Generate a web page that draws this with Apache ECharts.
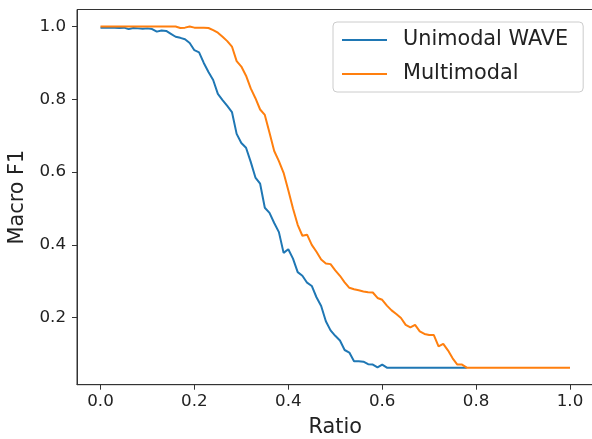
<!DOCTYPE html>
<html>
<head>
<meta charset="utf-8">
<script src="https://cdn.jsdelivr.net/npm/echarts@6/dist/echarts.min.js"></script>
<style>
  html, body { margin: 0; padding: 0; background: #fff; }
  #chart { width: 592px; height: 439px; }
</style>
</head>
<body>
<div id="chart"></div>
<script>
// Ratio steps of 0.01; the unimodal run stops at 0.78
const ratioStep = 0.01;

const unimodalWave = [
  0.997, 0.997, 0.997, 0.997, 0.996, 0.997, 0.993, 0.996, 0.995, 0.994,
  0.995, 0.993, 0.986, 0.989, 0.988, 0.980, 0.972, 0.969, 0.965, 0.955,
  0.935, 0.929, 0.900, 0.875, 0.853, 0.815, 0.798, 0.782, 0.765, 0.705,
  0.680, 0.667, 0.628, 0.585, 0.568, 0.502, 0.488, 0.460, 0.435, 0.378,
  0.388, 0.362, 0.325, 0.315, 0.296, 0.287, 0.256, 0.232, 0.190, 0.165,
  0.150, 0.137, 0.111, 0.104, 0.080, 0.080, 0.079, 0.072, 0.071, 0.063,
  0.071, 0.0625, 0.0625, 0.0625, 0.0625, 0.0625, 0.0625, 0.0625, 0.0625, 0.0625,
  0.0625, 0.0625, 0.0625, 0.0625, 0.0625, 0.0625, 0.0625, 0.0625, 0.0625
];

const multimodal = [
  1.000, 1.000, 1.000, 1.000, 1.000, 1.000, 1.000, 1.000, 1.000, 1.000,
  1.000, 1.000, 1.000, 1.000, 1.000, 1.000, 1.000, 0.996, 0.997, 1.000,
  0.997, 0.997, 0.997, 0.996, 0.990, 0.983, 0.972, 0.960, 0.945, 0.905,
  0.890, 0.865, 0.830, 0.803, 0.772, 0.757, 0.708, 0.658, 0.630, 0.598,
  0.550, 0.500, 0.455, 0.425, 0.428, 0.400, 0.381, 0.360, 0.349, 0.347,
  0.330, 0.315, 0.297, 0.282, 0.278, 0.275, 0.272, 0.270, 0.269, 0.254,
  0.249, 0.233, 0.220, 0.210, 0.199, 0.180, 0.173, 0.180, 0.162, 0.155,
  0.152, 0.152, 0.121, 0.128, 0.110, 0.088, 0.071, 0.071, 0.0625, 0.0625,
  0.0625, 0.0625, 0.0625, 0.0625, 0.0625, 0.0625, 0.0625, 0.0625, 0.0625, 0.0625,
  0.0625, 0.0625, 0.0625, 0.0625, 0.0625, 0.0625, 0.0625, 0.0625, 0.0625, 0.0625,
  0.0625
];

const xTicks = [0.0, 0.2, 0.4, 0.6, 0.8, 1.0];
const yTicks = [0.2, 0.4, 0.6, 0.8, 1.0];

const seriesNames = ['Unimodal WAVE', 'Multimodal'];
const seriesColors = ['#1f77b4', '#ff7f0e'];

function toPairs(values) {
  return values.map((v, i) => [Math.round(i * ratioStep * 100) / 100, v]);
}

const font = 'DejaVu Sans';
const chart = echarts.init(document.getElementById('chart'), null, { renderer: 'canvas' });

const axisCommon = {
  axisLine: { show: true, onZero: false, lineStyle: { color: '#333', width: 1 } },
  axisTick: { show: true, inside: false, length: 5, lineStyle: { color: '#333', width: 1 } },
  splitLine: { show: false },
  axisLabel: { color: '#222', fontFamily: font, fontSize: 16.7 },
  nameTextStyle: { color: '#222', fontFamily: font, fontSize: 20.8 }
};

chart.setOption({
  animation: false,
  backgroundColor: '#fff',
  color: seriesColors,
  grid: {
    left: 77, top: 9.5, right: -1.5, bottom: 54.3,
    show: true, borderColor: '#333', borderWidth: 1,
    containLabel: false, outerBoundsMode: 'none'
  },
  legend: {
    data: seriesNames,
    orient: 'vertical',
    left: 333, top: 22,
    padding: [6, 15, 6, 8],
    backgroundColor: 'rgba(255,255,255,0.8)',
    borderColor: '#ccc', borderWidth: 1, borderRadius: 4,
    itemWidth: 45, itemHeight: 14, itemGap: 10,
    itemStyle: { opacity: 0 },
    lineStyle: { width: 2 },
    textStyle: { fontFamily: font, fontSize: 20.8, color: '#222', lineHeight: 24, padding: [0, 0, 0, 11] }
  },
  xAxis: Object.assign({}, axisCommon, {
    type: 'value', min: -0.05, max: 1.05,
    name: 'Ratio', nameLocation: 'middle', nameGap: 32,
    axisLabel: Object.assign({}, axisCommon.axisLabel, {
      margin: 8, customValues: xTicks, formatter: v => v.toFixed(1)
    }),
    axisTick: Object.assign({}, axisCommon.axisTick, { customValues: xTicks })
  }),
  yAxis: Object.assign({}, axisCommon, {
    type: 'value', min: 0.015625, max: 1.046875,
    name: 'Macro F1', nameLocation: 'middle', nameGap: 45,
    axisLabel: Object.assign({}, axisCommon.axisLabel, {
      margin: 11, customValues: yTicks, formatter: v => v.toFixed(1)
    }),
    axisTick: Object.assign({}, axisCommon.axisTick, { customValues: yTicks })
  }),
  series: [
    {
      name: seriesNames[0], type: 'line', data: toPairs(unimodalWave),
      symbol: 'none', lineStyle: { width: 2, color: seriesColors[0] }, z: 2
    },
    {
      name: seriesNames[1], type: 'line', data: toPairs(multimodal),
      symbol: 'none', lineStyle: { width: 2, color: seriesColors[1] }, z: 3
    }
  ]
});
</script>
</body>
</html>
